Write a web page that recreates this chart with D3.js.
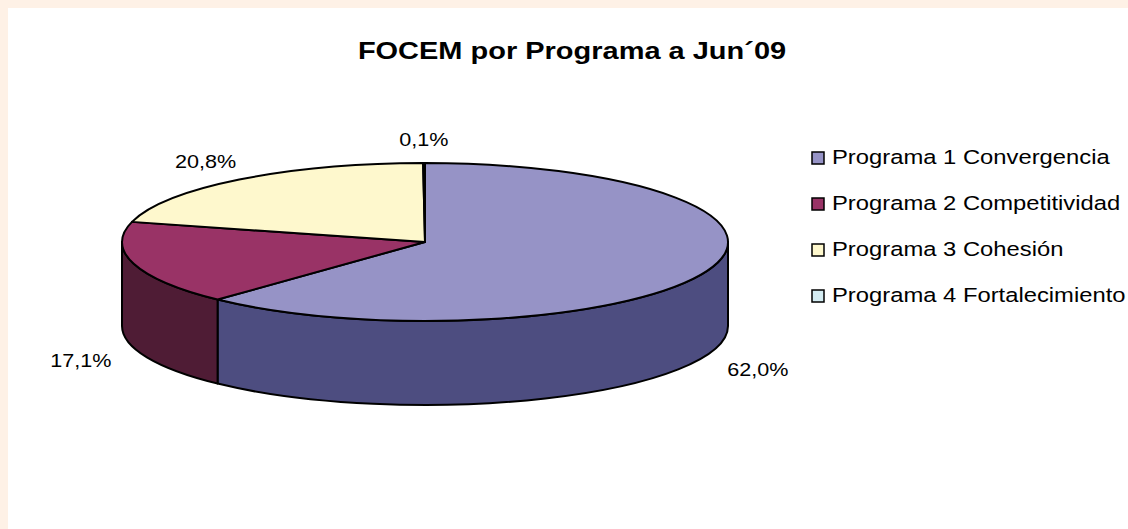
<!DOCTYPE html>
<html lang="es">
  <head>
    <meta charset="UTF-8" />
    <title>FOCEM por Programa</title>
    <script src="https://cdn.jsdelivr.net/npm/d3@7"></script>
    <style>
      body { margin: 0; background: #fef1e6; }
      svg text { font-family: "Liberation Sans", Arial, sans-serif; fill: #000; }
    </style>
  </head>
  <body>
    <div id="wrapper"></div>
    <script>
      // data
      const categories = [
        'Programa 1 Convergencia',
        'Programa 2 Competitividad',
        'Programa 3 Cohesión',
        'Programa 4 Fortalecimiento'
      ]
      const values = [62.0, 17.1, 20.8, 0.1]
      const title = 'FOCEM por Programa a Jun´09'

      const topColors = ['#9693c6', '#993366', '#fef8cd', '#d4ecf2']
      const sideColors = ['#4d4d80', '#4f1c35', '#8a8660', '#7a9aa2']

      const dms = {
        width: 1128,
        height: 529,
        cx: 425,
        cy: 242,
        rx: 303,
        ry: 79,
        depth: 84,
        stretch: 1.22
      }

      const locale = d3.formatLocale({ decimal: ',', thousands: '.', grouping: [3], currency: ['', ''] })
      const pctFormat = v => locale.format('.1f')(v) + '%'

      const $svg = d3.select('#wrapper').append('svg')
        .attr('width', dms.width)
        .attr('height', dms.height)
        .style('display', 'block')

      $svg.append('rect')
        .attr('x', 8).attr('y', 8)
        .attr('width', dms.width - 8).attr('height', dms.height - 8)
        .attr('fill', '#fff')

      // stretched text, like the original
      function stretchedText(g, x, y, txt, size, anchor, weight, sx) {
        return g.append('text')
          .attr('transform', `translate(${x},${y}) scale(${sx || dms.stretch},1)`)
          .attr('text-anchor', anchor)
          .style('font-size', size + 'px')
          .style('font-weight', weight || 'normal')
          .text(txt)
      }

      stretchedText($svg, 572, 59, title, 23, 'middle', 'bold', 1.26)

      const pie = d3.pie().sort(null).value(d => d)
      const arcs = pie(values)

      const pt = (a, dy = 0) => [
        dms.cx + dms.rx * Math.sin(a),
        dms.cy - dms.ry * Math.cos(a) + dy
      ]

      function topPath(d) {
        const p0 = pt(d.startAngle), p1 = pt(d.endAngle)
        const large = d.endAngle - d.startAngle > Math.PI ? 1 : 0
        return `M${dms.cx},${dms.cy}L${p0}A${dms.rx},${dms.ry} 0 ${large} 1 ${p1}Z`
      }

      function sidePath(d) {
        const s = Math.max(d.startAngle, Math.PI / 2)
        const e = Math.min(d.endAngle, Math.PI * 1.5)
        if (e <= s) return null
        const a = pt(s), b = pt(e), bb = pt(e, dms.depth), ab = pt(s, dms.depth)
        return `M${a}A${dms.rx},${dms.ry} 0 0 1 ${b}L${bb}A${dms.rx},${dms.ry} 0 0 0 ${ab}Z`
      }

      const pieG = $svg.append('g')

      pieG.selectAll('path.side')
        .data(arcs.filter(d => sidePath(d)))
        .join('path')
        .attr('class', 'side')
        .attr('d', sidePath)
        .attr('fill', d => sideColors[d.index])
        .attr('stroke', '#000')
        .attr('stroke-width', 2)
        .attr('stroke-linejoin', 'round')

      pieG.selectAll('path.top')
        .data(arcs)
        .join('path')
        .attr('class', 'top')
        .attr('d', topPath)
        .attr('fill', d => topColors[d.index])
        .attr('stroke', '#000')
        .attr('stroke-width', 2)
        .attr('stroke-linejoin', 'round')

      // percentage labels
      const labelRx = 358, labelRy = 104
      arcs.forEach(d => {
        const m = (d.startAngle + d.endAngle) / 2
        const front = Math.cos(m) < 0
        const x = dms.cx + labelRx * Math.sin(m)
        const y = dms.cy - labelRy * Math.cos(m) + (front ? dms.depth + 4 : 0) + 8
        stretchedText($svg, x, y, pctFormat(d.data), 18, 'middle', 'normal', 1.2)
      })

      // legend
      const legend = $svg.append('g')
      categories.forEach((c, i) => {
        const y = 164 + i * 46
        legend.append('rect')
          .attr('x', 812).attr('y', y - 12)
          .attr('width', 12).attr('height', 12)
          .attr('fill', topColors[i])
          .attr('stroke', '#000')
          .attr('stroke-width', 1.5)
        stretchedText(legend, 832, y, c, 19.5, 'start')
      })
    </script>
  </body>
</html>
